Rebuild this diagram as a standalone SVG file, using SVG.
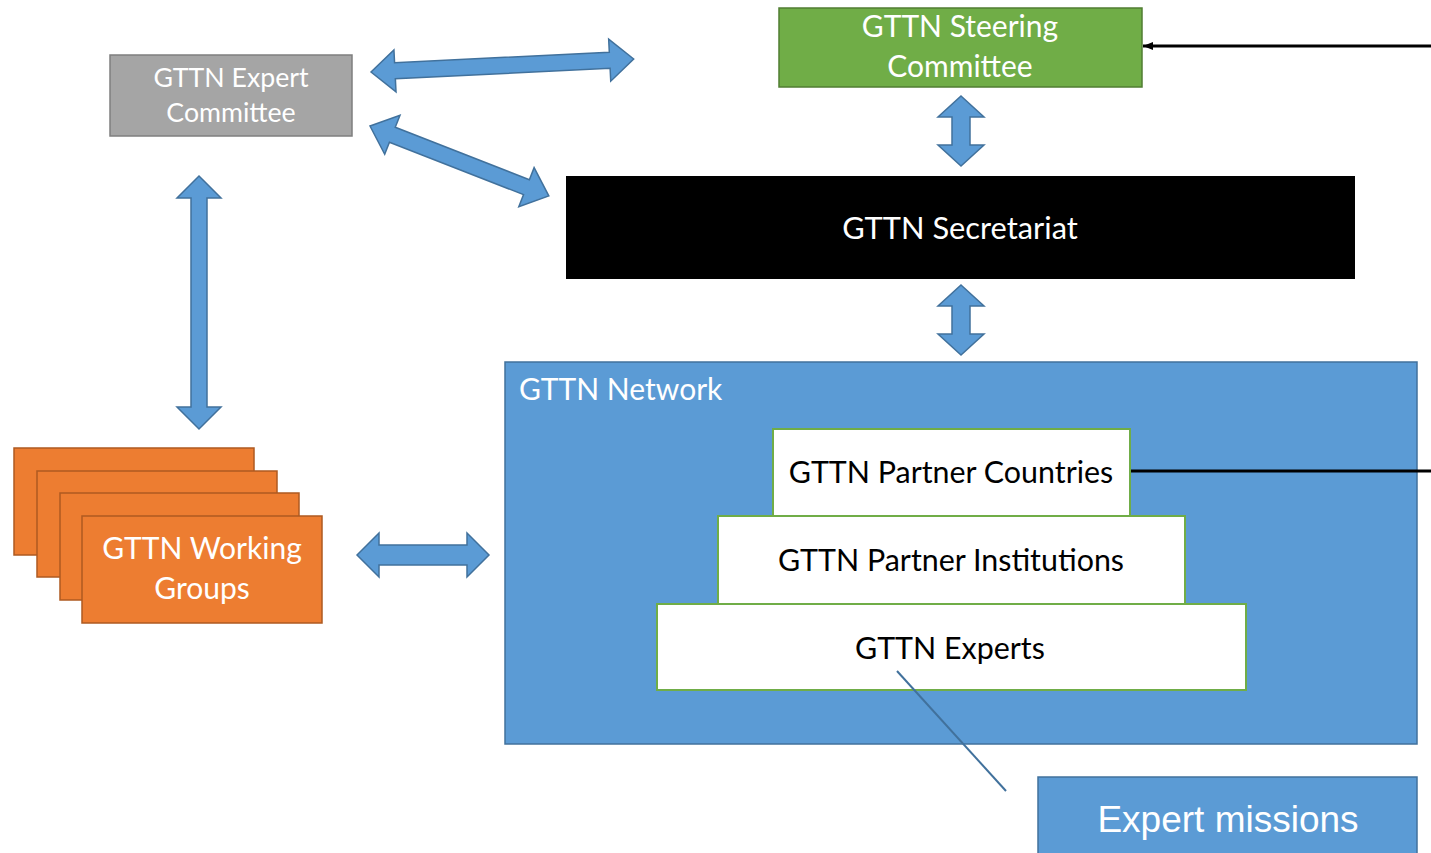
<svg xmlns="http://www.w3.org/2000/svg" width="1431" height="853" viewBox="0 0 1431 853">
<style>
.cal{font-family:Lato,"Open Sans","DejaVu Sans",sans-serif}
.w{fill:#fff}
.k{fill:#000}
.blk{fill:#5b9bd5;stroke:#41719c;stroke-width:1.5}
.org{fill:#ed7d31;stroke:#ae5a21;stroke-width:1.5}
.pyr{fill:#fff;stroke:#70ad47;stroke-width:2}
</style>
<defs>
<marker id="ah" markerWidth="12" markerHeight="10" refX="10" refY="5" orient="auto" markerUnits="userSpaceOnUse">
<path d="M0,1 L10,5 L0,9 Z" fill="#000"/>
</marker>
</defs>
<rect width="1431" height="853" fill="#fff"/>

<g id="network">
<rect x="505" y="362" width="912" height="382" class="blk"/>
<text x="519" y="400" class="cal w" font-size="30">GTTN Network</text>
</g>

<g id="expert-committee">
<rect x="110" y="55" width="242" height="81" fill="#a5a5a5" stroke="#7f7f7f" stroke-width="1.5"/>
<text x="231" y="87" class="cal w" font-size="26.7" text-anchor="middle">GTTN Expert</text>
<text x="231" y="122" class="cal w" font-size="26.7" text-anchor="middle">Committee</text>
</g>

<g id="steering-committee">
<rect x="779" y="8" width="363" height="79" fill="#70ad47" stroke="#507e32" stroke-width="1.5"/>
<text x="960" y="37" class="cal w" font-size="30" text-anchor="middle">GTTN Steering</text>
<text x="960" y="77" class="cal w" font-size="30" text-anchor="middle">Committee</text>
</g>

<g id="secretariat">
<rect x="566" y="176" width="789" height="103" fill="#000"/>
<text x="960" y="239" class="cal w" font-size="30.8" text-anchor="middle">GTTN Secretariat</text>
</g>

<g id="working-groups">
<rect x="14" y="448" width="240" height="107" class="org"/>
<rect x="37" y="471" width="240" height="106" class="org"/>
<rect x="60" y="493" width="239" height="107" class="org"/>
<rect x="82" y="516" width="240" height="107" class="org"/>
<text x="202" y="559" class="cal w" font-size="30" text-anchor="middle">GTTN Working</text>
<text x="202" y="599" class="cal w" font-size="30" text-anchor="middle">Groups</text>
</g>

<g id="partner-countries">
<rect x="773" y="429" width="357" height="87" class="pyr"/>
<text x="951" y="483" class="cal k" font-size="30.4" text-anchor="middle">GTTN Partner Countries</text>
</g>

<g id="partner-institutions">
<rect x="718" y="516" width="467" height="88" class="pyr"/>
<text x="951" y="571" class="cal k" font-size="30.4" text-anchor="middle">GTTN Partner Institutions</text>
</g>

<g id="experts">
<rect x="657" y="604" width="589" height="86" class="pyr"/>
<text x="950" y="659" class="cal k" font-size="30.4" text-anchor="middle">GTTN Experts</text>
</g>

<g id="expert-missions">
<rect x="1038" y="777" width="379" height="90" class="blk"/>
<text x="1228" y="832" font-family="'Liberation Sans',Arial,sans-serif" class="w" font-size="37" text-anchor="middle">Expert missions</text>
</g>

<g id="connectors">
<polygon class="blk" transform="translate(371,72) rotate(-2.83)" points="0,0 24,-21 24,-8 239,-8 239,-21 263,0 239,21 239,8 24,8 24,21"/>
<polygon class="blk" transform="translate(370,126) rotate(21.36)" points="0,0 24,-21 24,-8 168,-8 168,-21 192,0 168,21 168,8 24,8 24,21"/>
<polygon class="blk" transform="translate(199,176) rotate(90)" points="0,0 22,-22 22,-8 231,-8 231,-22 253,0 231,22 231,8 22,8 22,22"/>
<polygon class="blk" transform="translate(961,96) rotate(90)" points="0,0 21,-23 21,-9 49,-9 49,-23 70,0 49,23 49,9 21,9 21,23"/>
<polygon class="blk" transform="translate(961,285) rotate(90)" points="0,0 21,-23 21,-9 49,-9 49,-23 70,0 49,23 49,9 21,9 21,23"/>
<polygon class="blk" transform="translate(357,555)" points="0,0 22,-22 22,-10 110,-10 110,-22 132,0 110,22 110,10 22,10 22,22"/>
<line x1="1431" y1="46" x2="1143" y2="46" stroke="#000" stroke-width="3" marker-end="url(#ah)"/>
<line x1="1131" y1="471" x2="1431" y2="471" stroke="#000" stroke-width="3"/>
<line x1="897" y1="671" x2="1006" y2="791" stroke="#41719c" stroke-width="2"/>
</g>
</svg>
